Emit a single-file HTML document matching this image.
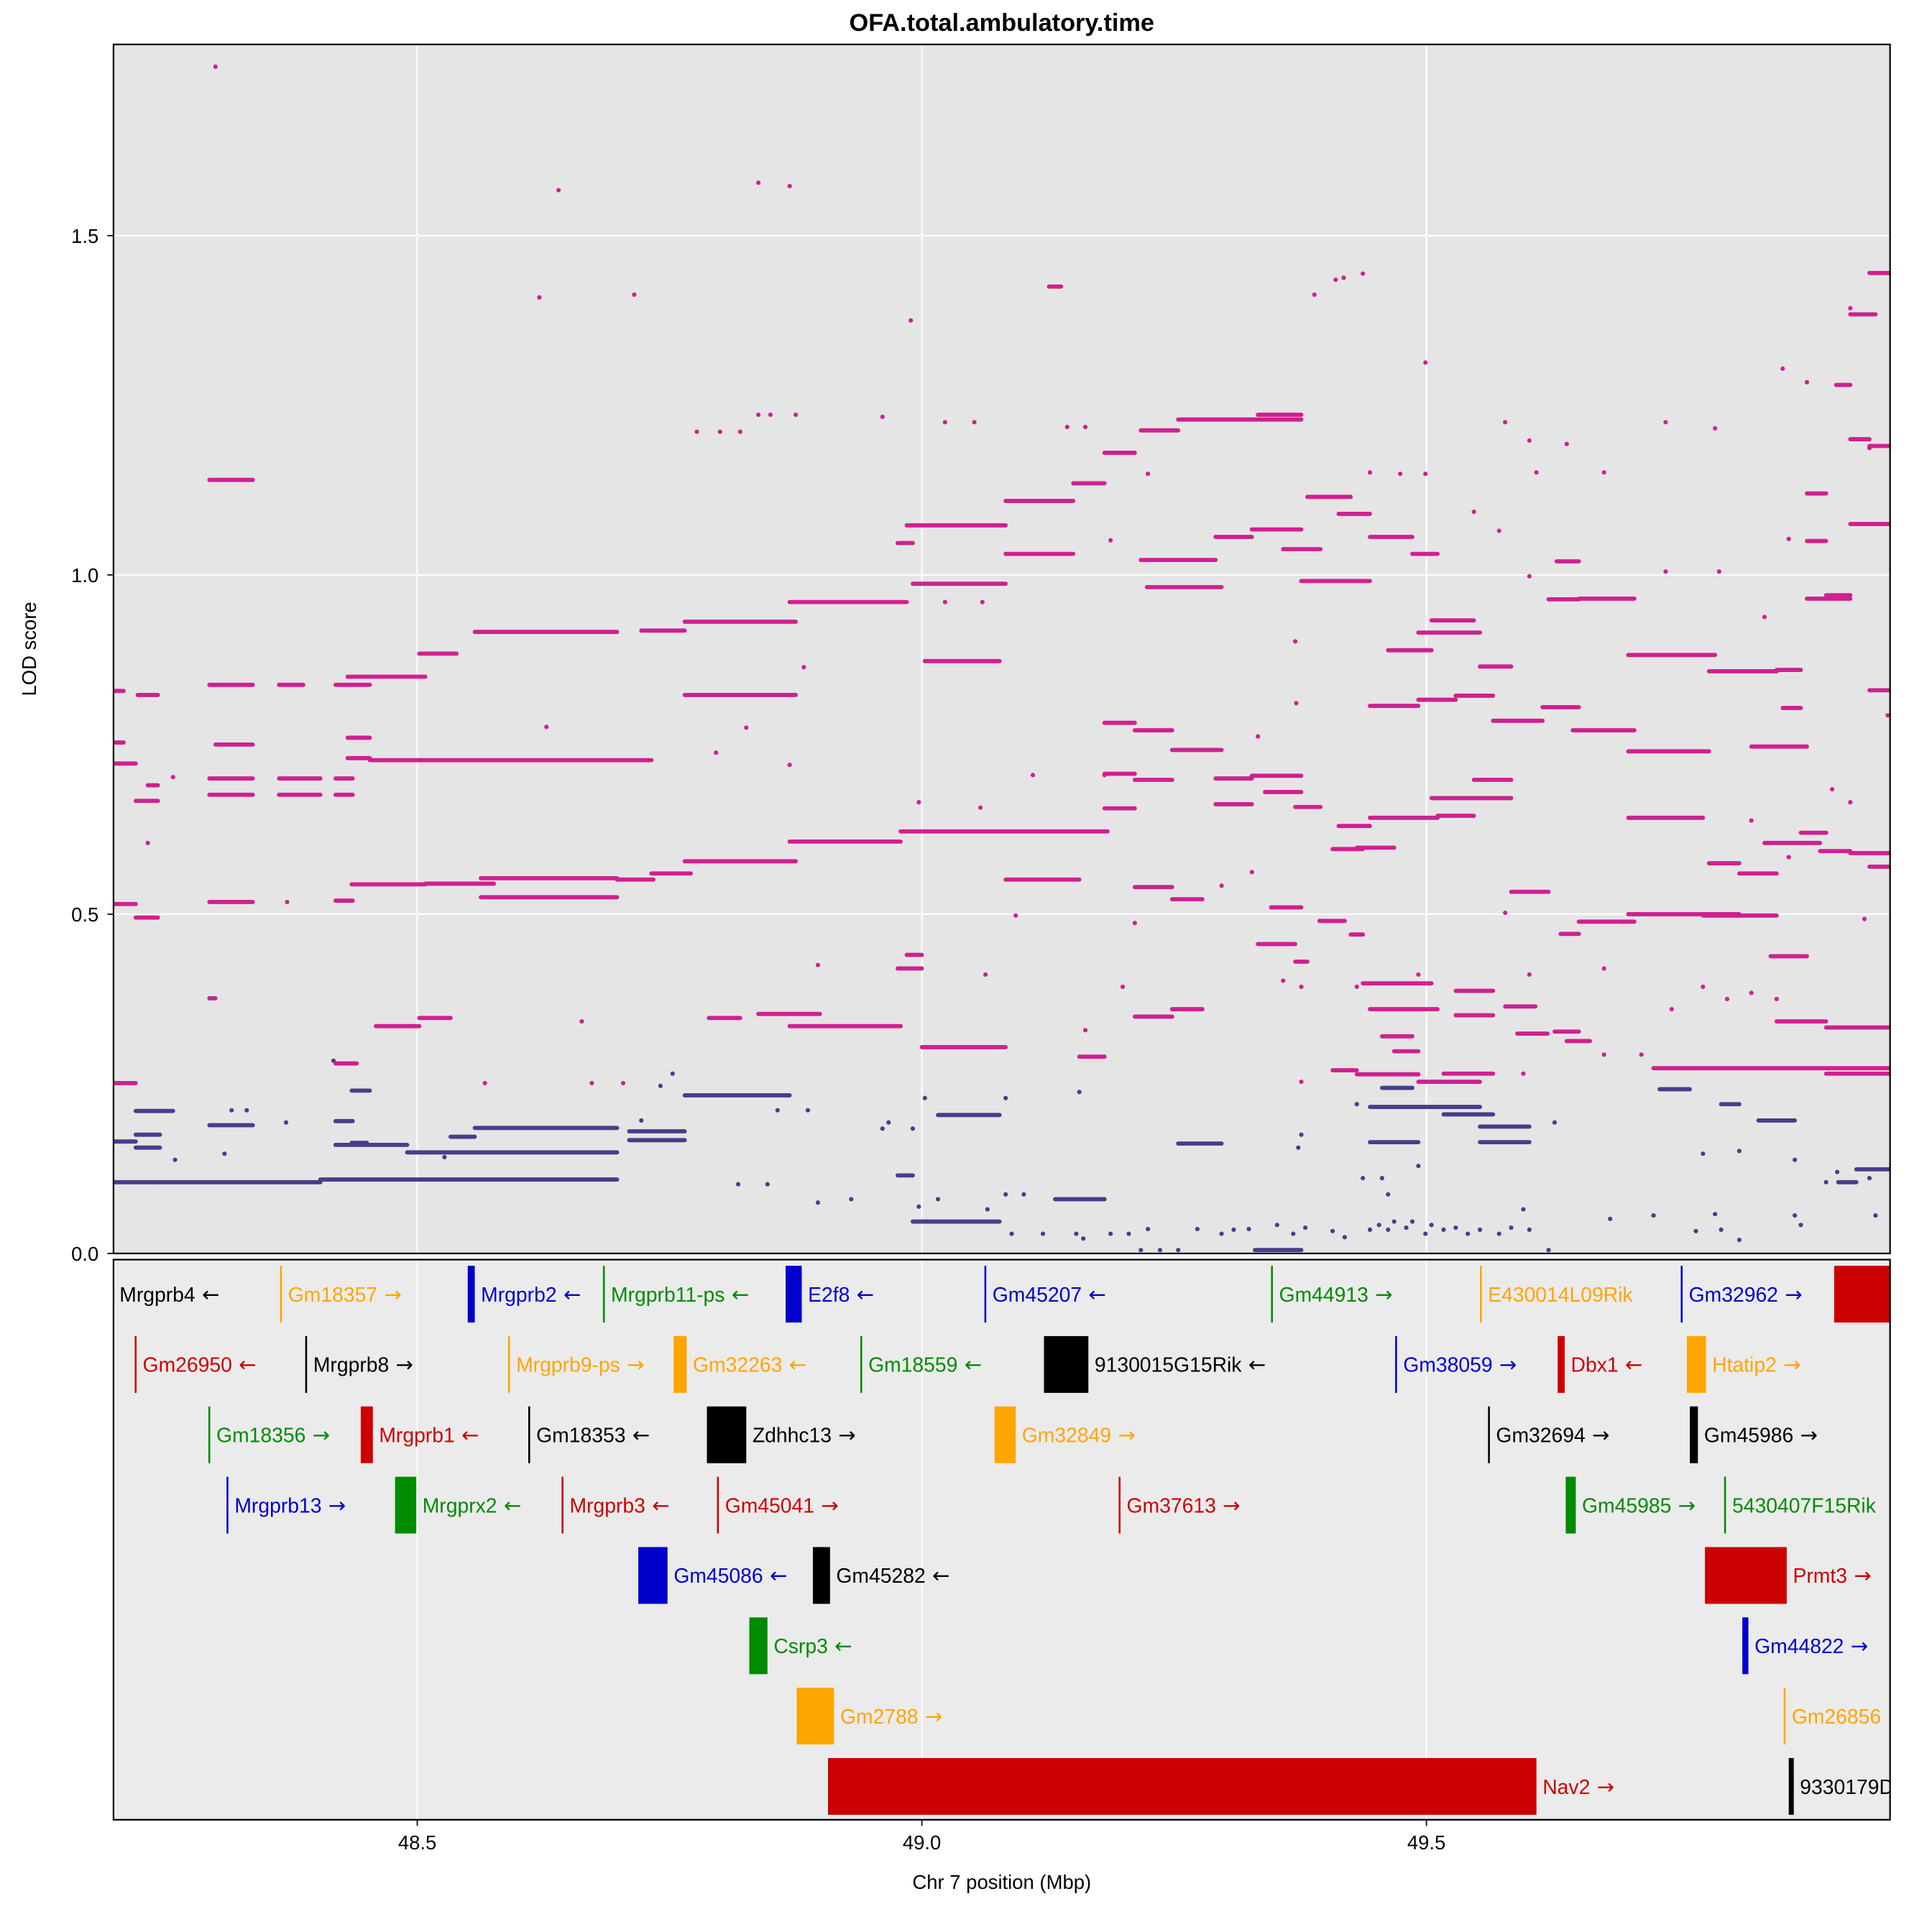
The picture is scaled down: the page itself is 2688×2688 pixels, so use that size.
<!DOCTYPE html>
<html><head><meta charset="utf-8"><title>OFA.total.ambulatory.time</title>
<style>html,body{margin:0;padding:0;background:#fff}svg{display:block}text{font-family:"Liberation Sans",Arial,sans-serif}</style>
</head><body>
<svg id="chart" xmlns="http://www.w3.org/2000/svg" width="2688" height="2688" viewBox="0 0 1566 1566">
<defs>
<clipPath id="plotClip"><rect x="92" y="36" width="1440" height="980"/></clipPath>
<clipPath id="geneClip"><rect x="92" y="1021" width="1440" height="454"/></clipPath>
</defs>
<text x="812" y="25" text-anchor="middle" font-size="20" font-weight="bold">OFA.total.ambulatory.time</text>
<rect x="92" y="36" width="1440" height="980" fill="#e5e5e5"/>
<rect x="92" y="1021" width="1440" height="454" fill="#ebebeb"/>
<g id="grid"></g>
<g id="marks" clip-path="url(#plotClip)"></g>
<g id="genes" clip-path="url(#geneClip)"></g>
<rect x="92" y="36" width="1440" height="980" fill="none" stroke="#000" stroke-width="1.3"/>
<rect x="92" y="1021" width="1440" height="454" fill="none" stroke="#000" stroke-width="1.3"/>
<g id="axes"></g>
<text x="0" y="0" transform="translate(29,526) rotate(-90)" text-anchor="middle" font-size="16">LOD score</text>
<text x="812" y="1531" text-anchor="middle" font-size="16">Chr 7 position (Mbp)</text>
</svg>
<script>
// ---- data: magenta series runs (start Mbp, end Mbp, LOD) ----
const magStart=[48.199,48.199,48.199,48.221,48.233,48.199,48.221,48.199,48.223,48.294,48.294,48.294,48.294,48.3,48.294,48.294,48.363,48.419,48.431,48.363,48.363,48.419,48.419,48.431,48.431,48.453,48.419,48.435,48.508,48.563,48.563,48.698,48.732,48.765,48.869,48.979,49.083,48.459,48.502,48.502,48.557,48.6,48.722,48.765,48.765,48.869,48.838,48.869,48.789,48.985,48.991,49.003,48.976,49.083,49.083,49.15,49.181,49.217,49.254,49.333,49.126,49.217,49.223,49.291,49.327,49.358,49.376,49.382,49.413,49.444,49.486,49.621,49.651,49.629,49.7,49.78,49.181,49.211,49.248,49.291,49.327,49.181,49.211,49.181,49.211,49.248,49.248,49.291,49.37,49.34,49.413,49.444,49.511,49.505,49.547,49.444,49.492,49.529,49.553,49.566,49.615,49.645,49.7,49.822,49.853,49.505,49.492,49.462,49.584,49.633,49.651,49.7,49.774,49.841,49.835,49.89,49.7,49.78,49.81,49.725,49.896,49.847,49.896,49.92,49.939,49.92,49.877,49.431,49.407,49.431,49.156,49.211,49.0,48.985,48.976,48.419,49.437,49.444,49.456,49.468,49.517,49.492,49.529,49.529,49.627,49.59,49.639,49.578,49.333,49.346,49.394,49.425,49.37,49.407,49.939,49.92,49.906,49.877,49.877,49.896,49.939,49.939,49.92,49.871,49.847];
const magEnd=[48.209,48.209,48.221,48.243,48.243,48.221,48.243,48.221,48.243,48.337,48.337,48.337,48.337,48.337,48.337,48.3,48.387,48.453,48.508,48.404,48.404,48.436,48.436,48.453,48.453,48.732,48.436,48.508,48.576,48.698,48.698,48.734,48.771,48.875,48.979,49.184,49.156,48.502,48.533,48.539,48.6,48.698,48.765,48.875,48.875,48.985,48.899,48.979,48.82,49.083,49.083,49.077,48.991,49.15,49.15,49.181,49.211,49.254,49.376,49.376,49.138,49.291,49.297,49.327,49.376,49.395,49.444,49.425,49.444,49.486,49.511,49.651,49.706,49.651,49.786,49.847,49.211,49.248,49.297,49.327,49.376,49.211,49.248,49.211,49.248,49.278,49.278,49.327,49.395,49.376,49.444,49.511,49.547,49.584,49.584,49.492,49.529,49.566,49.584,49.615,49.651,49.706,49.78,49.877,49.871,49.547,49.553,49.505,49.621,49.651,49.706,49.81,49.847,49.877,49.89,49.92,49.774,49.81,49.847,49.96,49.96,49.896,49.96,49.96,49.96,49.945,49.92,49.468,49.437,49.492,49.181,49.248,49.083,49.0,49.0,48.44,49.505,49.511,49.486,49.492,49.566,49.553,49.566,49.566,49.651,49.62,49.662,49.608,49.37,49.376,49.419,49.437,49.382,49.431,49.96,49.939,49.92,49.896,49.896,49.92,49.96,49.96,49.96,49.896,49.871];
const magLod=[0.829,0.753,0.722,0.667,0.69,0.515,0.495,0.251,0.823,0.838,1.14,0.70,0.676,0.75,0.518,0.376,0.838,0.838,0.85,0.70,0.676,0.676,0.70,0.76,0.73,0.727,0.52,0.544,0.545,0.553,0.525,0.551,0.56,0.578,0.607,0.622,0.551,0.335,0.347,0.884,0.916,0.916,0.918,0.931,0.823,0.96,0.353,0.335,0.347,1.073,0.987,0.873,1.047,1.109,1.031,1.135,1.18,1.213,1.229,1.236,1.425,1.022,0.982,1.056,1.067,1.038,0.991,1.115,1.09,1.056,1.031,0.964,0.965,1.02,0.882,0.858,0.782,0.771,0.742,0.70,0.704,0.707,0.698,0.656,0.54,0.522,0.36,0.662,0.658,0.68,0.63,0.642,0.645,0.671,0.698,0.807,0.816,0.822,0.865,0.785,0.805,0.771,0.740,0.747,0.804,0.933,0.915,0.889,0.533,0.471,0.489,0.50,0.498,0.438,0.605,0.593,0.642,0.575,0.56,0.273,0.265,0.342,0.333,1.075,1.445,1.384,0.965,0.598,0.596,0.264,0.29,0.349,0.304,0.44,0.42,0.28,0.398,0.36,0.32,0.298,0.265,0.253,0.351,0.387,0.327,0.324,0.313,0.364,0.456,0.51,0.49,0.47,0.43,0.27,1.19,1.2,1.28,1.12,1.05,0.97,0.83,0.57,0.59,0.62,0.86];
// isolated magenta points
const magPtX=[48.3,48.621,48.64,48.838,48.869,48.715,48.989,49.499,49.389,49.41,49.437,49.418,49.92,49.853,49.877,49.578,49.737,49.786,48.777,48.8,48.82,48.838,48.85,48.875,48.961,49.023,49.052,49.144,49.162,49.639,49.676,49.444,49.474,49.499,49.602,49.609,49.939,49.859,49.835,49.79,49.737,49.602,49.572,49.547,49.224,49.187,49.023,49.06,49.37,48.883,48.826,48.628,49.371,49.333,48.796,48.869,49.181,48.997,49.058,49.11,48.897,48.371,48.233,48.258,48.663,48.567,48.673,48.704,49.211,49.297,49.327,49.34,49.358,49.376,49.676,49.743,49.774,49.822,49.934,49.957,49.92,49.902,49.822,49.199,49.162,49.093,49.063,49.431,49.492,49.578,49.602,49.859,49.847,49.798,49.676,49.713,49.596,49.376];
const magPtLod=[1.749,1.409,1.567,1.578,1.573,1.413,1.375,1.313,1.413,1.435,1.444,1.438,1.393,1.304,1.284,1.225,1.225,1.216,1.211,1.211,1.211,1.236,1.236,1.236,1.233,1.225,1.225,1.218,1.218,1.193,1.151,1.151,1.149,1.149,1.198,1.151,1.187,1.053,0.938,1.005,1.005,0.998,1.065,1.093,1.149,1.051,0.96,0.96,0.902,0.864,0.775,0.776,0.811,0.762,0.738,0.72,0.705,0.665,0.657,0.705,0.425,0.518,0.605,0.702,0.342,0.251,0.251,0.251,0.487,0.542,0.562,0.456,0.402,0.393,0.42,0.36,0.393,0.384,0.493,0.793,0.665,0.684,0.638,0.393,0.329,0.498,0.411,0.393,0.411,0.502,0.411,0.584,0.375,0.375,0.293,0.293,0.265,0.253];
// ---- data: purple series runs ----
const purStart=[48.199,48.245,48.404,48.221,48.221,48.221,48.294,48.49,48.557,48.533,48.419,48.435,48.765,48.71,48.71,48.991,49.016,49.132,49.444,49.456,49.444,49.517,49.553,49.553,49.731,49.792,49.829,49.908,49.926,49.254,48.199,48.419,48.435,48.976,49.33];
const purEnd=[48.245,48.404,48.698,48.245,48.245,48.258,48.337,48.698,48.698,48.557,48.49,48.453,48.869,48.765,48.765,49.077,49.077,49.181,49.553,49.486,49.492,49.566,49.602,49.602,49.761,49.81,49.865,49.926,49.96,49.297,48.221,48.436,48.45,48.991,49.376];
const purLod=[0.105,0.105,0.109,0.156,0.175,0.21,0.189,0.149,0.185,0.172,0.16,0.24,0.233,0.18,0.167,0.047,0.204,0.08,0.216,0.244,0.164,0.205,0.187,0.164,0.242,0.22,0.196,0.105,0.124,0.162,0.165,0.195,0.163,0.115,0.005];
const purPtX=[49.089,49.12,49.153,49.16,49.187,49.205,49.224,49.217,49.236,49.254,49.273,49.297,49.309,49.324,49.352,49.368,49.38,49.407,49.419,49.444,49.453,49.462,49.468,49.48,49.486,49.499,49.505,49.517,49.529,49.541,49.553,49.572,49.584,49.602,49.621,49.596,49.682,49.725,49.767,49.792,49.81,49.786,49.871,49.865,49.945,49.774,49.81,49.065,49.101,49.083,48.997,49.016,48.818,48.847,48.897,48.93,48.961,48.967,48.991,49.003,49.083,49.156,49.376,49.373,49.437,49.456,49.462,49.431,49.492,49.627,48.857,48.887,48.722,48.741,48.753,48.417,48.26,48.309,48.316,48.331,48.37,48.527,49.896,49.907,49.939,49.865];
const purPtLod=[0.029,0.029,0.029,0.022,0.029,0.029,0.036,0.005,0.005,0.005,0.036,0.029,0.035,0.036,0.042,0.029,0.038,0.033,0.024,0.035,0.042,0.035,0.047,0.038,0.047,0.029,0.042,0.035,0.038,0.029,0.035,0.029,0.038,0.035,0.005,0.065,0.051,0.056,0.033,0.035,0.02,0.058,0.042,0.056,0.056,0.147,0.151,0.065,0.087,0.087,0.069,0.08,0.102,0.102,0.075,0.08,0.184,0.193,0.184,0.229,0.229,0.238,0.175,0.156,0.111,0.111,0.087,0.22,0.129,0.193,0.211,0.211,0.196,0.247,0.265,0.284,0.138,0.147,0.211,0.211,0.193,0.142,0.105,0.12,0.111,0.138];
// ---- axis ticks ----
const xTicks=[48.5,49.0,49.5];
const xTickLabels=["48.5","49.0","49.5"];
const yTicks=[0,0.5,1.0,1.5];
const yTickLabels=["0.0","0.5","1.0","1.5"];
// ---- genes ----
const geneName=["Mrgprb4","Gm18357","Mrgprb2","Mrgprb11-ps","E2f8","Gm45207","Gm44913","E430014L09Rik","Gm32962","Gm45987","Gm26950","Mrgprb8","Mrgprb9-ps","Gm32263","Gm18559","9130015G15Rik","Gm38059","Dbx1","Htatip2","Gm18356","Mrgprb1","Gm18353","Zdhhc13","Gm32849","Gm32694","Gm45986","Mrgprb13","Mrgprx2","Mrgprb3","Gm45041","Gm37613","Gm45985","5430407F15Rik","Gm45086","Gm45282","Prmt3","Csrp3","Gm44822","Gm2788","Gm26856","Nav2","9330179D12Rik"];
const geneStart=[48.197,48.364,48.55,48.684,48.865,49.062,49.346,49.553,49.752,49.904,48.22,48.389,48.59,48.754,48.939,49.121,49.469,49.63,49.758,48.293,48.444,48.61,48.787,49.072,49.561,49.761,48.311,48.478,48.643,48.797,49.195,49.638,49.795,48.719,48.892,49.776,48.829,49.813,48.876,49.854,48.907,49.859];
const geneEnd=[48.198,48.365,48.557,48.685,48.881,49.063,49.347,49.554,49.753,49.98,48.221,48.39,48.591,48.767,48.94,49.165,49.47,49.637,49.777,48.294,48.456,48.611,48.826,49.093,49.562,49.769,48.312,48.499,48.644,48.798,49.196,49.648,49.796,48.748,48.909,49.857,48.847,49.819,48.913,49.855,49.609,49.864];
const geneRow=[0,0,0,0,0,0,0,0,0,0,1,1,1,1,1,1,1,1,1,2,2,2,2,2,2,2,3,3,3,3,3,3,3,4,4,4,5,5,6,6,7,7];
const geneStrand=["-","+","-","-","-","-","+","","+","","-","+","+","-","-","-","+","-","+","+","-","-","+","+","+","+","+","-","-","+","+","+","","-","-","+","-","+","+","+","+",""];
const geneColor=["#000000","#FFA500","#0000CD","#008B00","#0000CD","#0000CD","#008B00","#FFA500","#0000CD","#CD0000","#CD0000","#000000","#FFA500","#FFA500","#008B00","#000000","#0000CD","#CD0000","#FFA500","#008B00","#CD0000","#000000","#000000","#FFA500","#000000","#000000","#0000CD","#008B00","#CD0000","#CD0000","#CD0000","#008B00","#008B00","#0000CD","#000000","#CD0000","#008B00","#0000CD","#FFA500","#FFA500","#CD0000","#000000"];

const NS="http://www.w3.org/2000/svg";
const X0=48.199, PX_PER_MB=818, LEFT=92, BASE=1016, PX_PER_LOD=550;
function xScale(m){return LEFT+(m-X0)*PX_PER_MB;}
function yScale(v){return BASE-v*PX_PER_LOD;}
function mk(tag,attrs,parent){const e=document.createElementNS(NS,tag);for(const k in attrs)e.setAttribute(k,attrs[k]);parent.appendChild(e);return e;}

const grid=document.getElementById('grid');
yTicks.forEach((t,i)=>{if(t===0)return;
  const l=mk('line',{x1:92,x2:1532,y1:yScale(t),y2:yScale(t),stroke:'#fff','stroke-width':1.2},grid);
  
  
});
xTicks.forEach((t,i)=>{
  const l=mk('line',{x1:xScale(t),x2:xScale(t),y1:36,y2:1016,stroke:'#fff','stroke-width':1.2},grid);
  
  
  const l2=mk('line',{x1:xScale(t),x2:xScale(t),y1:1021,y2:1475,stroke:'#fff','stroke-width':1.2},grid);
  
  
});

const marks=document.getElementById('marks');
function drawRuns(st,en,lod,color,name){
  for(let i=0;i<st.length;i++){
    const l=mk('line',{x1:xScale(st[i]),x2:xScale(en[i]),y1:yScale(lod[i]),y2:yScale(lod[i]),stroke:color,'stroke-width':3.4,'stroke-linecap':'round'},marks);
    
    
  }
}
function drawPts(xs,ys,color,name){
  for(let i=0;i<xs.length;i++){
    const c=mk('circle',{cx:xScale(xs[i]),cy:yScale(ys[i]),r:1.8,fill:color},marks);
    
    
  }
}
drawRuns(purStart,purEnd,purLod,'#483D8B','purple-lod-run');
drawPts(purPtX,purPtLod,'#483D8B','purple-lod-point');
drawRuns(magStart,magEnd,magLod,'#D02090','magenta-lod-run');
drawPts(magPtX,magPtLod,'#D02090','magenta-lod-point');

const genes=document.getElementById('genes');
for(let i=0;i<geneName.length;i++){
  const x1=xScale(geneStart[i]), x2=xScale(geneEnd[i]);
  const w=Math.max(x2-x1,1.5);
  const top=1026+geneRow[i]*57, h=46;
  const r=mk('rect',{x:x1,y:top,width:w,height:h,fill:geneColor[i]},genes);
  
  
  if(geneName[i]==="Gm45987")continue;
  const t=mk('text',{x:x1+w+5,y:top+h/2+6,'font-size':16.5,fill:geneColor[i]},genes);
  t.textContent=geneName[i];
  
  
  if(geneStrand[i]){
    const a=mk('tspan',{'font-family':'DejaVu Sans, sans-serif','font-size':17},t);
    a.textContent=geneStrand[i]==="+"?" \u2192":" \u2190";
  }
}

const axes=document.getElementById('axes');
xTicks.forEach((t,i)=>{
  const tk=mk('line',{x1:xScale(t),x2:xScale(t),y1:1475,y2:1480,stroke:'#000','stroke-width':1},axes);
  
  
  const tx=mk('text',{x:xScale(t),y:1499,'text-anchor':'middle','font-size':16},axes);
  tx.textContent=xTickLabels[i];
  
  
});
yTicks.forEach((t,i)=>{
  const tk=mk('line',{x1:87,x2:92,y1:yScale(t),y2:yScale(t),stroke:'#000','stroke-width':1},axes);
  
  
  const tx=mk('text',{x:80,y:yScale(t)+6,'text-anchor':'end','font-size':16},axes);
  tx.textContent=yTickLabels[i];
  
  
});
</script>
</body></html>
